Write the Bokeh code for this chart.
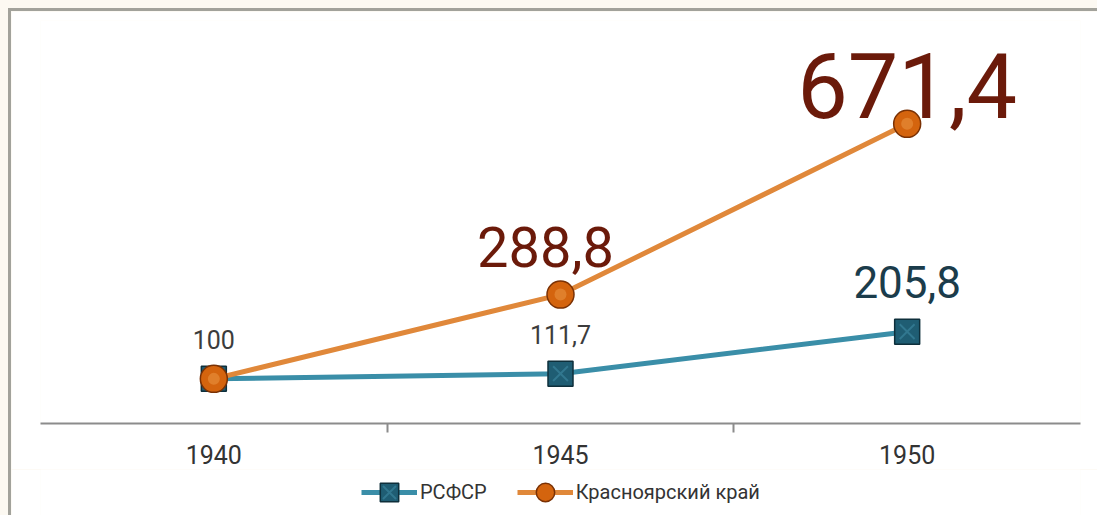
from bokeh.plotting import figure
from bokeh.layouts import column
from bokeh.models import (FactorRange, Range1d, CategoricalAxis, Legend, LegendItem)
from bokeh.core.properties import value
from bokeh.embed import file_html
from bokeh.resources import INLINE

# ---- data ----
years = ["1940", "1945", "1950"]
rsfsr = [100, 111.7, 205.8]
krasnoyarsk = [100, 288.8, 671.4]
series_names = ["РСФСР", "Красноярский край"]


def fmt(v):
    return f"{v:g}".replace(".", ",")


FONT_NAME = "Roboto"
FONT = value(FONT_NAME)
TEAL_LINE = "#3a8ea8"
TEAL_FILL = "#1f5d73"
TEAL_EDGE = "#0e2f3b"
TEAL_X = "#3f8ca6"
ORANGE_LINE = "#e0883a"
ORANGE_FILL = "#d4640e"
ORANGE_EDGE = "#7a3104"
BROWN = "#6b1a0a"
SLATE = "#1b3c4b"
GREY = "#3c3c3c"

p = figure(x_range=FactorRange(*years), y_range=Range1d(0, 903),
           width=1086, height=458, output_backend="svg", toolbar_location=None,
           x_axis_location=None, y_axis_location=None,
           min_border_left=29, min_border_right=17, min_border_top=9, min_border_bottom=46,
           outline_line_color=None, background_fill_color="white", border_fill_color="white")
p.grid.visible = False

# an auxiliary factor range whose factor centres fall on the category boundaries
n = len(years)
edge_factors = [f"edge{i}" for i in range(n + 1)]
p.extra_x_ranges = {"edges": FactorRange(*edge_factors, range_padding=-1.0 / (n + 1))}
edge_axis = CategoricalAxis(x_range_name="edges",
                            major_label_standoff=0, major_label_text_font_size="1px",
                            major_label_text_alpha=0,
                            axis_line_color="#8c8c8c", axis_line_width=2,
                            major_tick_line_color="#8c8c8c", major_tick_line_width=2,
                            major_tick_in=0, major_tick_out=9, minor_tick_line_color=None)
p.add_layout(edge_axis, "below")

cat_axis = CategoricalAxis(axis_line_color=None, major_tick_line_color=None,
                           minor_tick_line_color=None, major_label_standoff=6,
                           major_label_text_font=FONT_NAME, major_label_text_font_size="25px",
                           major_label_text_color="#333333")
p.add_layout(cat_axis, "below")

# RSFSR
p.line(years, rsfsr, line_color=TEAL_LINE, line_width=5)
p.scatter(years, rsfsr, marker="square", size=25, fill_color=TEAL_FILL,
          line_color=TEAL_EDGE, line_width=1.5)
p.scatter(years, rsfsr, marker="x", size=21, line_color=TEAL_X, line_width=2, line_alpha=0.55)

# Krasnoyarsk
p.line(years, krasnoyarsk, line_color=ORANGE_LINE, line_width=5)

# value labels (drawn before the orange markers so balls sit on top)
p.text(x=[years[0]], y=[rsfsr[0]], text=[fmt(rsfsr[0])], text_font=FONT,
       text_font_size="25px", text_color=GREY, text_align="center",
       text_baseline="alphabetic", y_offset=-39)
p.text(x=[years[1]], y=[rsfsr[1]], text=[fmt(rsfsr[1])], text_font=FONT,
       text_font_size="25px", text_color=GREY, text_align="center",
       text_baseline="alphabetic", y_offset=-39)
p.text(x=[years[2]], y=[rsfsr[2]], text=[fmt(rsfsr[2])], text_font=FONT,
       text_font_size="44px", text_color=SLATE, text_align="center",
       text_baseline="alphabetic", y_offset=-50)
p.text(x=[years[1]], y=[krasnoyarsk[1]], text=[fmt(krasnoyarsk[1])], text_font=FONT,
       text_font_size="56px", text_color=BROWN, text_align="center",
       text_baseline="alphabetic", x_offset=-15, y_offset=-48)
p.text(x=[years[2]], y=[krasnoyarsk[2]], text=[fmt(krasnoyarsk[2])], text_font=FONT,
       text_font_size="90px", text_color=BROWN, text_align="center",
       text_baseline="alphabetic", y_offset=-38)

p.scatter(years, krasnoyarsk, marker="circle", size=27, fill_color=ORANGE_FILL,
          line_color=ORANGE_EDGE, line_width=1.5)
p.scatter(years, krasnoyarsk, marker="circle", size=12, fill_color="#f0a050",
          fill_alpha=0.45, line_color=None)

# legend strip below the chart: the series are plotted here outside its visible
# y-range, so only the legend swatches show
leg = figure(x_range=FactorRange(*years), y_range=Range1d(-2, -1),
             width=1086, height=46, output_backend="svg", toolbar_location=None,
             x_axis_location=None, y_axis_location=None,
             min_border_left=0, min_border_right=0, min_border_top=0, min_border_bottom=0,
             outline_line_color=None, background_fill_color="white", border_fill_color="white")
leg.grid.visible = False
s_line = leg.line(years, rsfsr, line_color=TEAL_LINE, line_width=5)
s_sq = leg.scatter(years, rsfsr, marker="square", fill_color=TEAL_FILL, line_color=TEAL_EDGE,
                   line_width=1.5)
s_x = leg.scatter(years, rsfsr, marker="x", line_color=TEAL_X, line_width=2, line_alpha=0.55)
o_line = leg.line(years, krasnoyarsk, line_color=ORANGE_LINE, line_width=5)
o_dot = leg.scatter(years, krasnoyarsk, marker="circle", fill_color=ORANGE_FILL,
                    line_color=ORANGE_EDGE, line_width=1.5)

legend = Legend(items=[LegendItem(label=series_names[0], renderers=[s_line, s_sq, s_x], index=0),
                       LegendItem(label=series_names[1], renderers=[o_line, o_dot], index=0)],
                orientation="horizontal", location=(321, 0),
                label_text_font=FONT_NAME, label_text_font_size="20px", label_text_color="#333333",
                glyph_width=56, glyph_height=46, label_standoff=3, spacing=30,
                padding=0, margin=0, border_line_color=None, background_fill_alpha=0)
leg.add_layout(legend, "center")

layout = column(p, leg, spacing=0)

html = file_html(layout, INLINE)
html = html.replace(
    "</head>",
    "<style>html, body { background: #fcf9f2; overflow: hidden; } "
    "body { margin: 8px 0 0 8px; "
    "border-left: 3px solid #a2a29b; border-top: 3px solid #a2a29b; }</style></head>", 1)
open("out.html", "w").write(html)
